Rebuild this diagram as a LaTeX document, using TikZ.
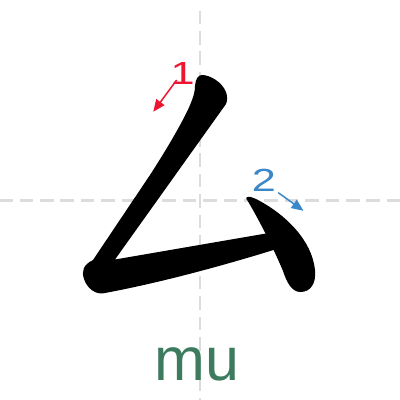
\documentclass[tikz,border=0pt]{standalone}
\usepackage{fontspec}
\setmainfont{Liberation Sans}
\usetikzlibrary{arrows.meta}
\definecolor{guide}{HTML}{DCDCDC}
\definecolor{redone}{HTML}{EE1530}
\definecolor{bluetwo}{HTML}{3A87C9}
\definecolor{pinyin}{HTML}{3D7B5F}
\newcommand{\widedigit}[1]{\scalebox{1.35}[1]{#1}}
\tikzset{
  guideline/.style={draw=guide, line width=2.6pt, dash pattern=on 13.6pt off 6.8pt},
  inkstroke/.style={fill=black, draw=none},
  ordernum/.style={inner sep=0pt, anchor=base, font=\fontsize{32}{36}\selectfont},
  orderarrow/.style={line width=1.5pt, -{Triangle[length=12pt,width=10pt]}},
  pinyintext/.style={inner sep=0pt, anchor=base, text=pinyin, font=\fontsize{61}{70}\selectfont}
}
\begin{document}
\begin{tikzpicture}[x=1pt,y=-1pt]
\useasboundingbox[fill=white] (0,0) rectangle (400,400);
% guide lines
\coordinate (hl) at (-0.9,200.7);
\coordinate (hr) at (400,200.7);
\coordinate (vt) at (200,10.5);
\coordinate (vb) at (200,400);
\draw[guideline] (hl) -- (hr);
\draw[guideline] (vt) -- (vb);
% stroke 1
\fill[inkstroke] (195,86)
  .. controls (195.5,79) and (198,75) .. (202,75)
  .. controls (210,75) and (222,82) .. (226,92)
  .. controls (227.5,96) and (227.5,101) .. (226,104)
  -- (115,259.5)
  -- (270,232.8)
  -- (275,249.5)
  .. controls (235,262) and (165,282) .. (103.3,293.3)
  .. controls (95,294.5) and (87,288) .. (84,279)
  .. controls (81.5,271) and (83,265) .. (93,260)
  -- (150,175)
  .. controls (172,141) and (188,112) .. (192,100)
  .. controls (194,95) and (195,90) .. (195,86) -- cycle;
% stroke 2
\fill[inkstroke] (246.5,197.5)
  .. controls (248.5,196) and (252,197) .. (257,199.5)
  .. controls (285,214) and (312,240) .. (315,270)
  .. controls (316.5,284) and (310,292) .. (300.5,292)
  .. controls (292,292) and (287,283) .. (283,271)
  .. controls (276,254) and (262,225) .. (247.5,200.5)
  .. controls (246.5,199.5) and (246,198.5) .. (246.5,197.5) -- cycle;
% order numbers and arrows
\node[ordernum, text=redone] (n1) at (182.6,84) {\widedigit{1}};
\node[ordernum, text=bluetwo] (n2) at (264,191) {\widedigit{2}};
\coordinate (a1s) at (176.7,80);
\coordinate (a1e) at (153.3,111.7);
\coordinate (a2s) at (278.3,192.7);
\coordinate (a2e) at (303.5,210.8);
\draw[orderarrow, draw=redone, fill=redone] (a1s) -- (a1e);
\draw[orderarrow, draw=bluetwo, fill=bluetwo] (a2s) -- (a2e);
% pinyin
\node[pinyintext] (py) at (196.7,380) {mu};
\end{tikzpicture}
\end{document}
